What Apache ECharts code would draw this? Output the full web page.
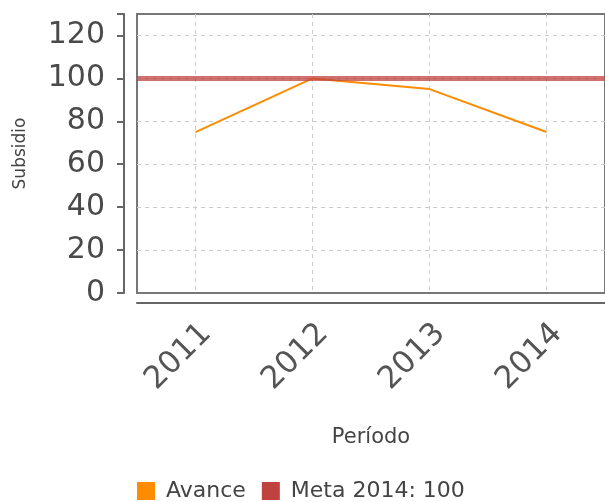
<!DOCTYPE html>
<html><head><meta charset="utf-8">
<script src="https://cdn.jsdelivr.net/npm/echarts@6/dist/echarts.min.js"></script>
<style>html,body{margin:0;padding:0;background:#fff}#c{width:605px;height:502px}</style>
</head><body><div id="c"></div>
<script>
const categories = ['2011', '2012', '2013', '2014'];
const avance = [75, 100, 95, 75];
const metaValue = 100;
const yTicks = [0, 20, 40, 60, 80, 100, 120];

const chart = echarts.init(document.getElementById('c'));
const font = 'DejaVu Sans';
chart.setOption({
  animation: false,
  grid: { left: 137, right: -4, top: 14, bottom: 209, show: true, borderColor: '#777', borderWidth: 2, backgroundColor: '#fff' },
  legend: {
    bottom: -5, left: 132, itemWidth: 18, itemHeight: 18, itemGap: 16, icon: 'rect',
    textStyle: { fontFamily: font, fontSize: 22, color: '#444', padding: [0, 0, 0, 6] },
    data: ['Avance', 'Meta 2014: ' + metaValue]
  },
  xAxis: {
    type: 'category', data: categories, boundaryGap: true, offset: 10,
    name: 'Período', nameLocation: 'middle', nameGap: 124,
    nameTextStyle: { fontFamily: font, fontSize: 21, color: '#444' },
    axisLine: { onZero: false, lineStyle: { color: '#666', width: 2 } },
    axisTick: { show: false },
    axisLabel: { rotate: 45, fontFamily: font, fontSize: 31, color: '#555', margin: 15, verticalAlign: 'top' },
    splitLine: { show: true, alignWithLabel: true, lineStyle: { type: [4, 4], color: '#ccc' } }
  },
  yAxis: {
    type: 'value', min: 0, max: 130, interval: 20, offset: 13,
    name: 'Subsidio', nameLocation: 'middle', nameGap: 95, nameRotate: 90,
    nameTextStyle: { fontFamily: font, fontSize: 17, color: '#444' },
    axisLine: { show: true, onZero: false, lineStyle: { color: '#666', width: 2 } },
    axisTick: { show: true, length: 7, lineStyle: { color: '#666', width: 2 } },
    axisLabel: { fontFamily: font, fontSize: 30, color: '#4a4a4a', margin: 19,
      formatter: v => yTicks.indexOf(v) >= 0 ? String(v) : '' },
    splitLine: { show: true, showMaxLine: false, showMinLine: false, lineStyle: { type: [4, 4], color: '#ccc' } }
  },
  series: [
    { name: 'Avance', type: 'line', data: avance, symbol: 'none',
      itemStyle: { color: '#ff8c00' }, lineStyle: { color: '#ff8c00', width: 2 } },
    { name: 'Meta 2014: ' + metaValue, type: 'line', data: [],
      itemStyle: { color: '#c0423f' },
      markLine: { silent: true, symbol: 'none', label: { show: false },
        lineStyle: { color: 'rgba(192,66,63,0.75)', width: 5, type: 'solid' },
        data: [{ yAxis: metaValue }] } }
  ]
});
</script></body></html>
